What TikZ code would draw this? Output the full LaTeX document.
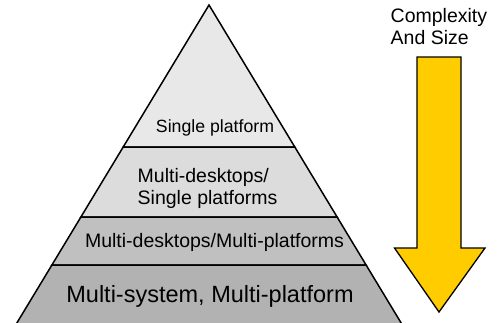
\documentclass[tikz,border=0pt]{standalone}
\usepackage{fontspec}
\setmainfont{Liberation Sans}
\definecolor{tierA}{HTML}{E8E8E8}
\definecolor{tierB}{HTML}{DCDCDC}
\definecolor{tierC}{HTML}{C0C0C0}
\definecolor{tierD}{HTML}{B2B2B2}
\definecolor{arrowyellow}{HTML}{FFCC00}
\begin{document}
\begin{tikzpicture}[x=1pt,y=-1pt,
  tier/.style={draw=black,line width=1.5pt,line join=miter},
  lbl/.style={inner sep=0pt,font=\fontsize{19.5}{22}\selectfont},
]
\useasboundingbox (0,0) rectangle (503,322);
\clip (0,0) rectangle (503,322);
% pyramid tiers
\filldraw[tier,fill=tierA] (209,5) -- (294.8,147) -- (123.2,147) -- cycle;
\filldraw[tier,fill=tierB] (123.2,147) -- (294.8,147) -- (337.1,217) -- (80.9,217) -- cycle;
\filldraw[tier,fill=tierC] (80.9,217) -- (337.1,217) -- (366.1,265) -- (51.9,265) -- cycle;
\filldraw[tier,fill=tierD] (51.9,265) -- (366.1,265) -- (406,331) -- (12,331) -- cycle;
% labels
\node[lbl,anchor=base,font=\fontsize{17.7}{20}\selectfont] (t1) at (215,132) {Single platform};
\node[lbl,anchor=base west,align=left] (t2a) at (137.5,182) {Multi-desktops/};
\node[lbl,anchor=base west,align=left] (t2b) at (137.5,204) {Single platforms};
\node[lbl,anchor=base] (t3) at (214.5,247) {Multi-desktops/Multi-platforms};
\node[lbl,anchor=base,font=\fontsize{23.5}{26}\selectfont] (t4) at (210,302) {Multi-system, Multi-platform};
% arrow
\filldraw[draw=black,line width=1.3pt,fill=arrowyellow,line join=miter]
  (417,57) -- (461,57) -- (461,248) -- (485,248) -- (439,312) -- (394.5,248) -- (417,248) -- cycle;
\node[lbl,anchor=base west] (c1) at (390.5,22) {Complexity};
\node[lbl,anchor=base west] (c2) at (390.5,44.5) {And Size};
\end{tikzpicture}
\end{document}
